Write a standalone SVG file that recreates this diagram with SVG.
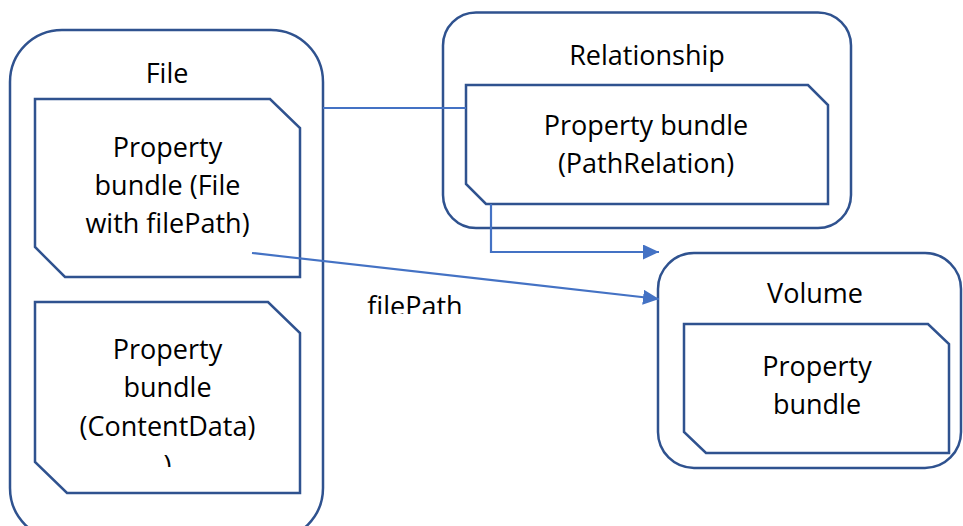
<svg xmlns="http://www.w3.org/2000/svg" width="963" height="526" viewBox="0 0 963 526">
<style>
.outer{fill:#fff;stroke:#2F528F;stroke-width:2.5}
.pb{fill:#fff;stroke:#2F528F;stroke-width:2.5}
.conn{fill:none;stroke:#4472C4;stroke-width:2.2}
text{font-family:"Open Sans","Liberation Sans",sans-serif;font-size:27px;fill:#000;text-anchor:middle}
</style>
<defs>
<marker id="arrow" markerUnits="userSpaceOnUse" markerWidth="16" markerHeight="15" refX="16" refY="7.5" orient="auto">
<path d="M0,0 L16,7.5 L0,15 z" fill="#4472C4"/>
</marker>
<clipPath id="clipPB2"><rect x="0" y="0" width="963" height="467"/></clipPath>
<clipPath id="clipLbl"><rect x="0" y="0" width="963" height="314"/></clipPath>
</defs>
<rect width="963" height="526" fill="#fff"/>
<g id="file">
<rect class="outer" x="10" y="30" width="313" height="510" rx="52" ry="52"/>
<text x="167" y="83">File</text>
</g>
<g id="pb-file">
<path class="pb" d="M35 99 H270 L300 128 V277 H65 L35 247 Z"/>
<text x="167.5" y="157">Property</text>
<text x="167.5" y="195">bundle (File</text>
<text x="167.5" y="233">with filePath)</text>
</g>
<g id="pb-content">
<path class="pb" d="M35 302 H268 L300 333 V493 H67 L35 462 Z"/>
<text x="167.5" y="359">Property</text>
<text x="167.5" y="397">bundle</text>
<text x="167.5" y="436">(ContentData)</text>
<text x="167.5" y="475" clip-path="url(#clipPB2)">)</text>
</g>
<g id="relationship">
<rect class="outer" x="443" y="12.5" width="408" height="215.5" rx="33" ry="33"/>
<text x="647" y="65">Relationship</text>
</g>
<g id="pb-pathrelation">
<path class="pb" d="M466 85 H808 L828 105 V204 H486 L466 184 Z"/>
<text x="646" y="135">Property bundle</text>
<text x="646" y="173">(PathRelation)</text>
</g>
<g id="volume">
<rect class="outer" x="658" y="253" width="303" height="215" rx="36" ry="36"/>
<text x="815" y="303">Volume</text>
</g>
<g id="pb-volume">
<path class="pb" d="M684 324 H928 L949 344 V453 H706 L684 432 Z"/>
<text x="817" y="376">Property</text>
<text x="817" y="414">bundle</text>
</g>
<g id="connectors">
<path class="conn" d="M323 108 H466"/>
<path class="conn" d="M491 204 V252 H659" marker-end="url(#arrow)"/>
<path class="conn" d="M252 253 L659 299" marker-end="url(#arrow)"/>
</g>
<g id="label-filepath">
<text x="415" y="316" clip-path="url(#clipLbl)">filePath</text>
</g>
</svg>
